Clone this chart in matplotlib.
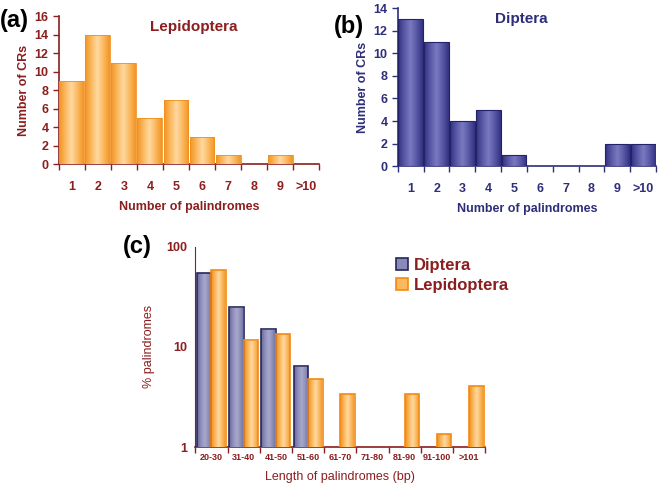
import numpy as np
import matplotlib
matplotlib.use("Agg")
import matplotlib.pyplot as plt
from matplotlib.colors import LinearSegmentedColormap
from matplotlib.patches import Patch

plt.rcParams['font.family'] = ['Liberation Sans', 'DejaVu Sans']

# data
counts_labels = ["1", "2", "3", "4", "5", "6", "7", "8", "9", ">10"]
lepido_counts = [9, 14, 11, 5, 7, 3, 1, 0, 1, 0]
diptera_counts = [13, 11, 4, 5, 1, 0, 0, 0, 2, 2]

length_labels = ["20-30", "31-40", "41-50", "51-60", "61-70", "71-80",
                 "81-90", "91-100", ">101"]
diptera_pct = [55, 25, 15, 6.4, 0, 0, 0, 0, 0]
lepido_pct = [59, 11.6, 13.6, 4.8, 3.4, 0, 3.4, 1.36, 4.1]

RED = "#8B1E1E"
NAVY = "#2E2E7A"

orange_cm = LinearSegmentedColormap.from_list(
    "orange", ["#F29424", "#FBB85E", "#FFD9A2", "#FBB85E", "#F29424"])
blue_cm = LinearSegmentedColormap.from_list(
    "blue", ["#323282", "#5858A6", "#7A7AC0", "#5858A6", "#323282"])
grey_blue_cm = LinearSegmentedColormap.from_list(
    "greyblue", ["#6E6EA0", "#9090BC", "#A8A8CC", "#9090BC", "#6E6EA0"])


def no_zeros(values):
  # empty categories get no bar at all
  v = np.array(values, dtype=float)
  v[v <= 0] = np.nan
  return v


def gradient_bars(ax, bars, cmap, base=0):
  # fill each bar with a horizontal gradient, clipped to the bar
  grad = np.linspace(0, 1, 64).reshape(1, -1)
  for b in bars:
    h = b.get_height()
    if not h or np.isnan(h) or h <= base:
      continue
    x0 = b.get_x()
    im = ax.imshow(grad, cmap=cmap, aspect="auto",
                   extent=(x0, x0 + b.get_width(), base, h),
                   interpolation="bilinear", zorder=b.get_zorder() - 0.1)
    im.set_clip_path(b)


def style_axes(ax, color, n):
  for s in ["top", "right"]:
    ax.spines[s].set_visible(False)
  for s in ["left", "bottom"]:
    ax.spines[s].set_color(color)
    ax.spines[s].set_linewidth(1.2)
  ax.set_xlim(-0.5, n - 0.5)
  ax.set_xticks(np.arange(n + 1) - 0.5, minor=True)
  ax.set_xticks(np.arange(n))
  ax.tick_params(axis="x", which="major", length=0, pad=12, colors=color)
  ax.tick_params(axis="x", which="minor", length=4, width=1, color=color,
                 direction="out")
  ax.tick_params(axis="y", length=4, width=1, color=color, labelcolor=color,
                 direction="out")


fig = plt.figure(figsize=(6.62, 4.83), dpi=100)

# (a) Lepidoptera
ax1 = fig.add_axes([0.089, 0.660, 0.393, 0.306])
idx = np.arange(len(counts_labels))
bars = ax1.bar(idx, no_zeros(lepido_counts), width=0.96, color="none",
               edgecolor="#F0901E", linewidth=0.6, zorder=3)
gradient_bars(ax1, bars, orange_cm)
style_axes(ax1, RED, len(counts_labels))
ax1.set_ylim(0, 16)
ax1.set_yticks(range(0, 17, 2))
ax1.set_xticklabels(counts_labels, fontsize=9, fontweight="bold")
for t in ax1.get_yticklabels():
  t.set_fontsize(9)
  t.set_fontweight("bold")
ax1.set_ylabel("Number of CRs", color=RED, fontsize=9, fontweight="bold",
               labelpad=3)
ax1.set_xlabel("Number of palindromes", color=RED, fontsize=9,
               fontweight="bold", labelpad=6)
ax1.text(0.52, 0.93, "Lepidoptera", transform=ax1.transAxes, color=RED,
         fontsize=11, fontweight="bold", ha="center", va="center")
fig.text(0.0, 0.958, "(a)", fontsize=17, fontweight="bold", va="center")

# (b) Diptera
ax2 = fig.add_axes([0.601, 0.656, 0.390, 0.327])
bars = ax2.bar(idx, no_zeros(diptera_counts), width=0.96, color="none",
               edgecolor="#23236A", linewidth=0.8, zorder=3)
gradient_bars(ax2, bars, blue_cm)
style_axes(ax2, NAVY, len(counts_labels))
ax2.set_ylim(0, 14)
ax2.set_yticks(range(0, 15, 2))
ax2.set_xticklabels(counts_labels, fontsize=9, fontweight="bold")
for t in ax2.get_yticklabels():
  t.set_fontsize(9)
  t.set_fontweight("bold")
ax2.set_ylabel("Number of CRs", color=NAVY, fontsize=9, fontweight="bold",
               labelpad=3)
ax2.set_xlabel("Number of palindromes", color=NAVY, fontsize=9,
               fontweight="bold", labelpad=6)
ax2.text(0.48, 0.93, "Diptera", transform=ax2.transAxes, color=NAVY,
         fontsize=11, fontweight="bold", ha="center", va="center")
fig.text(0.505, 0.945, "(b)", fontsize=17, fontweight="bold", va="center")

# (c) length distribution, log scale
ax3 = fig.add_axes([0.295, 0.0745, 0.438, 0.4145])
ax3.set_yscale("log")
ax3.set_ylim(1, 100)
idx_c = np.arange(len(length_labels))
w = 0.45
b1 = ax3.bar(idx_c - w / 2, no_zeros(diptera_pct), width=w, color="none",
             edgecolor="#26265E", linewidth=1.2, zorder=3)
b2 = ax3.bar(idx_c + w / 2, no_zeros(lepido_pct), width=w, color="none",
             edgecolor="#F28A14", linewidth=1.2, zorder=3)
gradient_bars(ax3, b1, grey_blue_cm, base=1)
gradient_bars(ax3, b2, orange_cm, base=1)
style_axes(ax3, RED, len(length_labels))
ax3.spines["left"].set_linewidth(0.8)
ax3.set_yticks([1, 10, 100])
ax3.set_yticklabels(["1", "10", "100"])
ax3.yaxis.set_minor_locator(matplotlib.ticker.NullLocator())
ax3.tick_params(axis="y", length=0, pad=6)
ax3.tick_params(axis="x", which="major", pad=4)
ax3.set_xticklabels(length_labels, fontsize=6.5, fontweight="bold")
for t in ax3.get_yticklabels():
  t.set_fontsize(9)
  t.set_fontweight("bold")
ax3.set_ylabel("% palindromes", color=RED, fontsize=9, labelpad=8)
ax3.set_xlabel("Length of palindromes (bp)", color=RED, fontsize=9,
               labelpad=7)
handles = [Patch(facecolor="#8A8AB8", edgecolor="#26265E", linewidth=1.2),
           Patch(facecolor="#FBB85E", edgecolor="#F28A14", linewidth=1.2)]
leg = ax3.legend(handles, ["Diptera", "Lepidoptera"], loc="upper left",
                 bbox_to_anchor=(0.64, 1.02), frameon=False,
                 prop={"size": 12, "weight": "bold"}, handlelength=0.7,
                 handleheight=0.7, handletextpad=0.4, labelspacing=0.3)
for t in leg.get_texts():
  t.set_color(RED)
fig.text(0.185, 0.49, "(c)", fontsize=17, fontweight="bold", va="center")

fig.savefig("out.png", dpi=100)
